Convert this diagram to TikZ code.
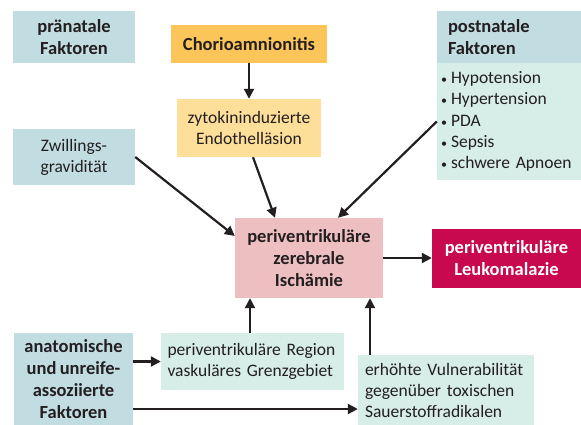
\documentclass[tikz,border=0pt]{standalone}
\usepackage{fontspec}
\setmainfont{Carlito}[WordSpace={0.8}]
\usetikzlibrary{arrows.meta}
\definecolor{bluebox}{HTML}{C2DDE1}
\definecolor{greenbox}{HTML}{D7EDE8}
\definecolor{orangebox}{HTML}{FCC55A}
\definecolor{lightorange}{HTML}{FEDF9A}
\definecolor{pinkbox}{HTML}{EEBFC1}
\definecolor{crimson}{HTML}{C8084F}
\definecolor{ink}{HTML}{231F20}
\tikzset{
  box/.style={inner sep=0pt, align=center, text=ink, font=\fontsize{17.5}{21}\selectfont},
  boldbox/.style={box, font=\fontsize{18.5}{22}\selectfont\bfseries},
  arr/.style={draw=ink, line width=2.2pt, -{Triangle[length=10pt,width=10pt]}},
}
\newcommand{\bul}{\makebox[10pt][l]{{\fontsize{12}{12}\selectfont •}}}
\begin{document}
\begin{tikzpicture}[x=1pt,y=-1pt]
\useasboundingbox (0,0) rectangle (581,425);
\node[boldbox, fill=bluebox, minimum width=122pt, minimum height=52pt] (pre) at (74,37) {pränatale\\Faktoren};
\node[boldbox, fill=orangebox, minimum width=156pt, minimum height=38pt] (ch) at (249,44) {Chorioamnionitis};
\node[box, fill=lightorange, minimum width=144pt, minimum height=58pt] (zy) at (249,128) {zytokininduzierte\\Endothelläsion};
\node[box, fill=bluebox, minimum width=122pt, minimum height=56pt] (zw) at (74,157) {Zwillings-\\gravidität};
\node[boldbox, fill=bluebox, minimum width=144pt, minimum height=52pt, text width=122pt, align=left] (ph) at (509,37) {postnatale\\Faktoren};
\node[box, fill=greenbox, minimum width=144pt, minimum height=117pt, text width=136pt, align=left, font=\fontsize{17.5}{21.3}\selectfont] (pb) at (509,121.5) {\bul Hypotension\\\bul Hypertension\\\bul PDA\\\bul Sepsis\\\bul schwere Apnoen};
\node[boldbox, fill=pinkbox, minimum width=148pt, minimum height=80pt] (c) at (309,258) {periventrikuläre\\zerebrale\\Ischämie};
\node[boldbox, fill=crimson, text=white, minimum width=149pt, minimum height=59pt] (l) at (506.5,258.5) {periventrikuläre\\Leukomalazie};
\node[boldbox, fill=bluebox, minimum width=119pt, minimum height=92pt] (a) at (73.5,379) {anatomische\\und unreife-\\assoziierte\\Faktoren};
\node[box, fill=greenbox, minimum width=183pt, minimum height=57pt, text width=170pt, align=left] (r) at (252.5,361.5) {periventrikuläre Region\\vaskuläres Grenzgebiet};
\node[box, fill=greenbox, minimum width=176pt, minimum height=70pt, text width=162pt, align=left] (e) at (446,390) {erhöhte Vulnerabilität\\gegenüber toxischen\\Sauerstoffradikalen};
\draw[arr] (ch.south) -- (zy.north);
\draw[arr] (zw.east) -- ([yshift=22pt]c.west);
\draw[arr] ([xshift=4pt]zy.south) -- ([xshift=-34pt]c.north);
\draw[arr] (pb.west) -- ([xshift=29pt]c.north);
\draw[arr] (c.east) -- (l.west |- c.east);
\draw[arr] ([xshift=-2.5pt]r.north) -- ([xshift=-2.5pt]r.north |- c.south);
\draw[arr] ([xshift=-76pt]e.north) -- ([xshift=-76pt]e.north |- c.south);
\draw[arr] (a.east |- r.west) -- (r.west);
\draw[arr] ([yshift=-30pt]a.east) -- ([yshift=-30pt]a.east -| e.west);
\end{tikzpicture}
\end{document}
